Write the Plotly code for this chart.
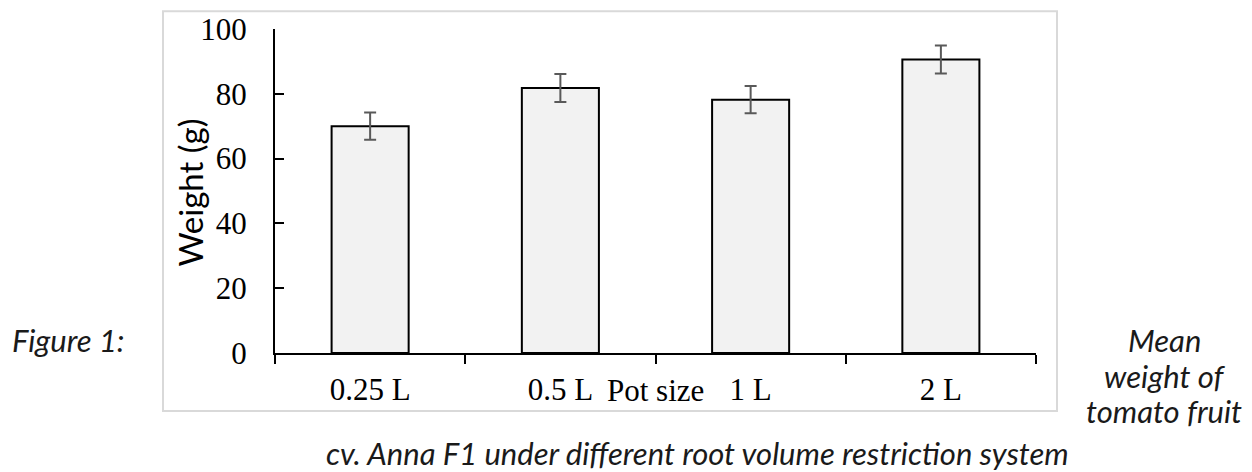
import plotly.graph_objects as go

categories = ["0.25 L", "0.5 L", "1 L", "2 L"]
mean_weight = [70.0, 81.8, 78.2, 90.6]
error = [4.2, 4.3, 4.2, 4.3]
y_ticks = [0, 20, 40, 60, 80, 100]

SERIF = "Liberation Serif, Times New Roman, serif"
SANS = "Lato, Carlito, Calibri, sans-serif"

W, H = 1252, 472
# plot area in page pixels
L, R, T, B = 275, 1036, 24, 353
pw, ph = R - L, B - T

def px(x):
    return (x - L) / pw

def py(y):
    return (B - y) / ph

fig = go.Figure()
fig.add_trace(go.Bar(
    x=categories, y=mean_weight, width=0.405,
    marker=dict(color="#f2f2f2", line=dict(color="#000000", width=2)),
    error_y=dict(type="data", array=error, visible=True, color="#595959",
                 thickness=2, width=6),
    showlegend=False, hoverinfo="x+y",
))

cap_font = dict(family=SANS, size=31, color="#1a1a1a")

def cap(text, x, y):
    return dict(text="<i>" + text + "</i>", xref="paper", yref="paper",
                x=px(x), y=py(y), showarrow=False, xanchor="center",
                yanchor="middle", font=cap_font)

fig.update_layout(
    width=W, height=H,
    margin=dict(l=L, r=W - R, t=T, b=H - B, pad=0),
    paper_bgcolor="white", plot_bgcolor="white",
    xaxis=dict(range=[-0.5, 3.5], showline=True, linecolor="black", linewidth=2,
               ticks="outside", ticklen=9, tickwidth=2, tickcolor="black",
               tickson="boundaries", showgrid=False, zeroline=False,
               tickfont=dict(family=SERIF, size=31, color="black"),
               ticklabelstandoff=8),
    yaxis=dict(range=[0, 100], tickvals=y_ticks, showline=True, linecolor="black",
               linewidth=2, ticks="inside", ticklen=9, tickwidth=2, tickcolor="black",
               showgrid=False, zeroline=False,
               tickfont=dict(family=SERIF, size=31, color="black"),
               ticklabelstandoff=20),
    shapes=[dict(type="rect", xref="paper", yref="paper",
                 x0=px(163), x1=px(1057), y0=py(412), y1=py(6),
                 line=dict(color="#d9d9d9", width=2), fillcolor="rgba(0,0,0,0)",
                 layer="below")],
    annotations=[
        dict(text="Weight (g)", xref="paper", yref="paper", x=px(190), y=py(190),
             textangle=-90, showarrow=False, xanchor="center", yanchor="middle",
             font=dict(family=SANS, size=33, color="black")),
        dict(text="Pot size", xref="paper", yref="paper", x=px(655), y=py(391),
             showarrow=False, xanchor="center", yanchor="middle",
             font=dict(family=SERIF, size=31, color="black")),
        cap("Figure 1:", 68, 340),
        cap("Mean", 1164, 340),
        cap("weight of", 1164, 376),
        cap("tomato fruit", 1164, 412),
        cap("cv. Anna F1 under different root volume restriction system", 697, 455),
    ],
)

fig.write_html("out.html",
               config={"displayModeBar": False},
               post_script="document.body.style.margin='0';"
                           "document.body.style.overflow='hidden';")
